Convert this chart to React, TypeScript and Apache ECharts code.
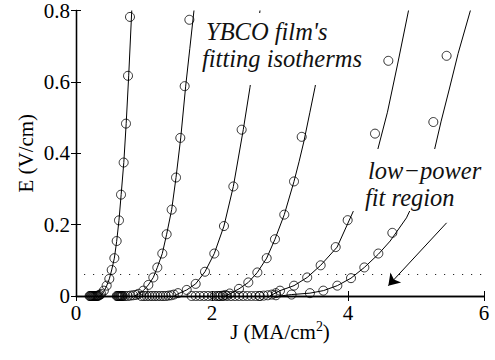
import React, { useEffect, useRef } from "react";
import * as echarts from "echarts";

// Measured E–J points (J in MA/cm², E in V/cm), one set per isotherm
const meas1J = [0.2, 0.21, 0.22, 0.23, 0.24, 0.25, 0.26, 0.27, 0.28, 0.29, 0.3, 0.31, 0.32, 0.33, 0.35, 0.37, 0.41, 0.451, 0.49, 0.525, 0.564, 0.598, 0.632, 0.662, 0.701, 0.735, 0.765, 0.794];
const meas1E = [0, 0, 0, 0, 0, 0, 0, 0, 0, 0, 0, 0, 0.001, 0.001, 0.003, 0.006, 0.015, 0.029, 0.048, 0.073, 0.106, 0.154, 0.212, 0.284, 0.374, 0.483, 0.617, 0.782];

const meas2J = [0.6, 0.61, 0.62, 0.63, 0.64, 0.65, 0.66, 0.67, 0.68, 0.69, 0.72, 0.76, 0.8, 0.84, 0.88, 0.917, 0.99, 1.064, 1.137, 1.196, 1.269, 1.333, 1.407, 1.471, 1.534, 1.598, 1.667];
const meas2E = [0, 0, 0, 0, 0, 0, 0, 0, 0, 0, 0, 0, 0.001, 0.002, 0.003, 0.006, 0.015, 0.031, 0.052, 0.08, 0.119, 0.173, 0.242, 0.332, 0.443, 0.588, 0.774];

const meas3J = [0.96, 1.0, 1.04, 1.08, 1.12, 1.16, 1.2, 1.24, 1.28, 1.32, 1.36, 1.4, 1.44, 1.5, 1.628, 1.76, 1.897, 2.034, 2.176, 2.314, 2.436];
const meas3E = [0, 0, 0, 0, 0, 0, 0, 0, 0, 0, 0.001, 0.002, 0.004, 0.008, 0.017, 0.034, 0.068, 0.119, 0.196, 0.307, 0.466];

const meas4J = [1.7, 1.76, 1.82, 1.88, 1.94, 2.0, 2.04, 2.08, 2.12, 2.16, 2.2, 2.26, 2.397, 2.534, 2.667, 2.804, 2.926, 3.063, 3.206, 3.319];
const meas4E = [0, 0, 0, 0, 0, 0, 0, 0, 0, 0.001, 0.003, 0.007, 0.02, 0.038, 0.066, 0.106, 0.159, 0.228, 0.321, 0.446];

const meas5J = [2.1, 2.16, 2.22, 2.28, 2.34, 2.4, 2.46, 2.52, 2.58, 2.64, 2.7, 2.76, 2.82, 2.88, 2.94, 3.0, 3.206, 3.4, 3.598, 3.819, 3.995, 4.397, 4.593];
const meas5E = [0, 0, 0, 0, 0, 0, 0, 0, 0, 0, 0, 0.001, 0.002, 0.004, 0.008, 0.015, 0.029, 0.052, 0.086, 0.137, 0.2125, 0.455, 0.659];

const meas6J = [2.7, 2.94, 3.17, 3.44, 3.637, 3.843, 4.044, 4.24, 4.446, 4.652, 5.255, 5.45];
const meas6E = [0, 0.002, 0.004, 0.008, 0.015, 0.029, 0.05, 0.08, 0.119, 0.177, 0.4875, 0.673];

// Fitted isotherm curves
const fit1J = [0.36, 0.41, 0.45, 0.49, 0.525, 0.564, 0.598, 0.632, 0.664, 0.703, 0.738, 0.775, 0.82];
const fit1E = [0, 0.013, 0.028, 0.048, 0.073, 0.106, 0.153, 0.212, 0.284, 0.374, 0.483, 0.617, 0.8];

const fit2J = [0.86, 0.917, 0.99, 1.064, 1.137, 1.196, 1.269, 1.333, 1.407, 1.471, 1.54, 1.613, 1.674, 1.735];
const fit2E = [0, 0.005, 0.015, 0.031, 0.052, 0.08, 0.119, 0.173, 0.242, 0.332, 0.443, 0.588, 0.694, 0.8];

const fit3J = [1.45, 1.5, 1.628, 1.76, 1.897, 2.034, 2.176, 2.314, 2.46, 2.559, 2.706];
const fit3E = [0, 0.006, 0.017, 0.034, 0.068, 0.119, 0.196, 0.307, 0.466, 0.585, 0.8];

const fit4J = [2.2, 2.26, 2.397, 2.534, 2.667, 2.804, 2.926, 3.063, 3.206, 3.28, 3.35, 3.44, 3.515, 3.62];
const fit4E = [0, 0.006, 0.02, 0.038, 0.066, 0.106, 0.159, 0.228, 0.321, 0.376, 0.432, 0.515, 0.585, 0.7];

const fit5J = [2.85, 3.0, 3.206, 3.4, 3.598, 3.84, 4.078, 4.25, 4.43, 4.58, 4.73, 4.89];
const fit5E = [0, 0.015, 0.029, 0.052, 0.086, 0.137, 0.2375, 0.315, 0.405, 0.515, 0.65, 0.8];

const fit6J = [3.0, 3.17, 3.44, 3.637, 3.843, 4.044, 4.24, 4.446, 4.62, 4.86, 5.06, 5.26, 5.37, 5.49, 5.62, 5.8];
const fit6E = [0, 0.004, 0.008, 0.015, 0.029, 0.05, 0.08, 0.117, 0.154, 0.219, 0.3, 0.4, 0.49, 0.58, 0.68, 0.8];

// Upper edge of the low-power fit region and the arrow pointing into it
const lowPowerLimitE = 0.06;
const lowPowerSpanJ = [0.12, 6];
const arrowFrom = [5.45, 0.205];
const arrowTo = [4.593, 0.029];

// Axis ticks
const jTicks = [0, 2, 4, 6];
const eTicks = [0, 0.2, 0.4, 0.6, 0.8];

const FONT = '"Liberation Serif", "Times New Roman", serif';

const zip = (xs: number[], ys: number[]) => xs.map((x, i) => [x, ys[i]]);

export default function App() {
  const ref = useRef<HTMLDivElement>(null);

  useEffect(() => {
    if (!ref.current) return;
    const chart = echarts.init(ref.current, undefined, { renderer: "svg" });

    const measured = [
      zip(meas1J, meas1E),
      zip(meas2J, meas2E),
      zip(meas3J, meas3E),
      zip(meas4J, meas4E),
      zip(meas5J, meas5E),
      zip(meas6J, meas6E),
    ];
    const fits = [
      zip(fit1J, fit1E),
      zip(fit2J, fit2E),
      zip(fit3J, fit3E),
      zip(fit4J, fit4E),
      zip(fit5J, fit5E),
      zip(fit6J, fit6E),
    ];

    const axisText = { fontFamily: FONT, fontSize: 21, color: "#000" };
    const boxLine = { show: true, lineStyle: { color: "#000", width: 1.3 } };
    const tick = { show: true, inside: true, length: 5, lineStyle: { color: "#000", width: 1 } };

    const jAxisBase = {
      type: "value" as const,
      min: jTicks[0],
      max: jTicks[jTicks.length - 1],
      interval: jTicks[1] - jTicks[0],
      splitLine: { show: false },
      axisLine: boxLine,
      axisTick: tick,
    };
    const eAxisBase = {
      type: "value" as const,
      min: eTicks[0],
      max: eTicks[eTicks.length - 1],
      interval: eTicks[1] - eTicks[0],
      splitLine: { show: false },
      axisLine: boxLine,
      axisTick: tick,
    };

    const series: any[] = [];
    fits.forEach((d, i) => {
      series.push({
        name: `fit${i + 1}`,
        type: "line",
        data: d,
        showSymbol: false,
        symbol: "none",
        smooth: false,
        lineStyle: { color: "#000", width: 1 },
        z: 2,
        silent: true,
      });
    });
    measured.forEach((d, i) => {
      series.push({
        name: `data${i + 1}`,
        type: "scatter",
        data: d,
        symbol: "circle",
        symbolSize: 9,
        itemStyle: { color: "rgba(0,0,0,0)", borderColor: "#000", borderWidth: 1 },
        z: 3,
        silent: true,
      });
    });
    series.push({
      name: "limit",
      type: "line",
      data: [],
      silent: true,
      markLine: {
        silent: true,
        symbol: ["none", "none"],
        label: { show: false },
        lineStyle: { color: "#000", width: 1, type: [1, 8] },
        data: [[{ coord: [lowPowerSpanJ[0], lowPowerLimitE] }, { coord: [lowPowerSpanJ[1], lowPowerLimitE] }]],
      },
    });
    series.push({
      name: "arrow",
      type: "line",
      data: [],
      silent: true,
      markLine: {
        silent: true,
        symbol: ["none", "arrow"],
        symbolSize: 11,
        label: { show: false },
        lineStyle: { color: "#000", width: 1, type: "solid" },
        data: [[{ coord: arrowFrom }, { coord: arrowTo }]],
      },
    });

    const textEl = (text: string, x: number, y: number) => ({
      type: "text",
      x,
      y,
      z: 101,
      silent: true,
      style: {
        text,
        fontFamily: FONT,
        fontSize: 24.5,
        fontStyle: "italic",
        fill: "#111",
        textAlign: "left",
        align: "left",
        textVerticalAlign: "middle",
        verticalAlign: "middle",
      },
    });

    chart.setOption({
      animation: false,
      backgroundColor: "#fff",
      grid: { left: 76, right: 11, top: 8, bottom: 64 },
      xAxis: [
        {
          ...jAxisBase,
          position: "bottom",
          axisLabel: { ...axisText, margin: 6 },
          name: "{n|J (MA/cm}{s|2}{n|)}",
          nameLocation: "middle",
          nameGap: 23,
          nameMoveOverlap: false,
          nameTextStyle: {
            rich: {
              n: { fontFamily: FONT, fontSize: 21, color: "#000", lineHeight: 25 },
              s: { fontFamily: FONT, fontSize: 14, color: "#000", verticalAlign: "top" },
            },
          },
        },
        { ...jAxisBase, position: "top", axisLabel: { show: false } },
      ],
      yAxis: [
        {
          ...eAxisBase,
          position: "left",
          axisLabel: { ...axisText, margin: 6 },
          name: "E (V/cm)",
          nameLocation: "middle",
          nameGap: 40,
          nameMoveOverlap: false,
          nameTextStyle: axisText,
        },
        { ...eAxisBase, position: "right", axisLabel: { show: false } },
      ],
      series,
      graphic: [
        { type: "rect", z: 100, silent: true, shape: { x: 200, y: 13, width: 168, height: 72 }, style: { fill: "#fff" } },
        { type: "rect", z: 100, silent: true, shape: { x: 352, y: 149, width: 127, height: 62 }, style: { fill: "#fff" } },
        textEl("YBCO film's", 206, 31.7),
        textEl("fitting isotherms", 202, 58.7),
        textEl("low\u2212power", 368, 170),
        textEl("fit region", 365, 197),
      ],
    });

    return () => chart.dispose();
  }, []);

  return (
    <div
      ref={ref}
      style={{ position: "fixed", left: 0, top: 0, width: 495, height: 360 }}
    />
  );
}
